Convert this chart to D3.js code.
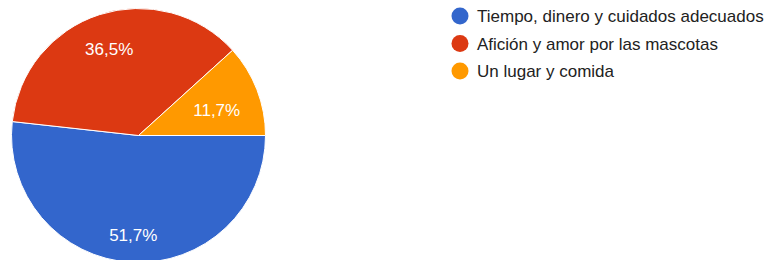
<!DOCTYPE html>
<html>
<head>
<meta charset="utf-8">
<script src="https://cdn.jsdelivr.net/npm/d3@7"></script>
<style>
  body { margin: 0; background: #fff; }
  svg { display: block; font-family: "Liberation Sans", Arial, sans-serif; }
</style>
</head>
<body>
<div id="chart"></div>
<script>
// chart data
var categories = ["Tiempo, dinero y cuidados adecuados", "Afición y amor por las mascotas", "Un lugar y comida"];
var values = [51.7, 36.5, 11.7];
var labels = ["51,7%", "36,5%", "11,7%"];
var colors = ["#3366cc", "#dc3912", "#ff9900"];

var width = 765, height = 260;
var cx = 138.5, cy = 135.5, radius = 127;

var svg = d3.select("#chart")
    .append("svg")
    .attr("width", width)
    .attr("height", height);

// pie starts at 3 o'clock and goes clockwise
var pie = d3.pie()
    .sort(null)
    .startAngle(Math.PI / 2)
    .endAngle(Math.PI / 2 + 2 * Math.PI)
    .value(function(d) { return d; });

var arc = d3.arc()
    .innerRadius(0)
    .outerRadius(radius);

// narrow slices get their label pulled in a bit so it fits
function labelPos(d) {
    var span = d.endAngle - d.startAngle;
    var r = span < 1 ? radius * 0.66 : radius * 0.75;
    return d3.arc().innerRadius(r).outerRadius(r).centroid(d);
}

var g = svg.append("g")
    .attr("transform", "translate(" + cx + "," + cy + ")");

var slices = pie(values);

g.selectAll("path")
    .data(slices)
    .enter()
    .append("path")
    .attr("d", arc)
    .attr("fill", function(d, i) { return colors[i]; })
    .attr("stroke", "#fff")
    .attr("stroke-width", 1);

g.selectAll("text")
    .data(slices)
    .enter()
    .append("text")
    .attr("transform", function(d) { return "translate(" + labelPos(d) + ")"; })
    .attr("dy", "0.6em")
    .attr("text-anchor", "middle")
    .attr("font-size", "17px")
    .attr("fill", "#fff")
    .text(function(d, i) { return labels[i]; });

// legend
var legend = svg.append("g")
    .attr("transform", "translate(460,16)");

var rows = legend.selectAll("g")
    .data(categories)
    .enter()
    .append("g")
    .attr("transform", function(d, i) { return "translate(0," + (i * 27.5) + ")"; });

rows.append("circle")
    .attr("r", 8.5)
    .attr("fill", function(d, i) { return colors[i]; });

rows.append("text")
    .attr("x", 17)
    .attr("y", 6)
    .attr("font-size", "17px")
    .attr("fill", "#222")
    .text(function(d) { return d; });
</script>
</body>
</html>
